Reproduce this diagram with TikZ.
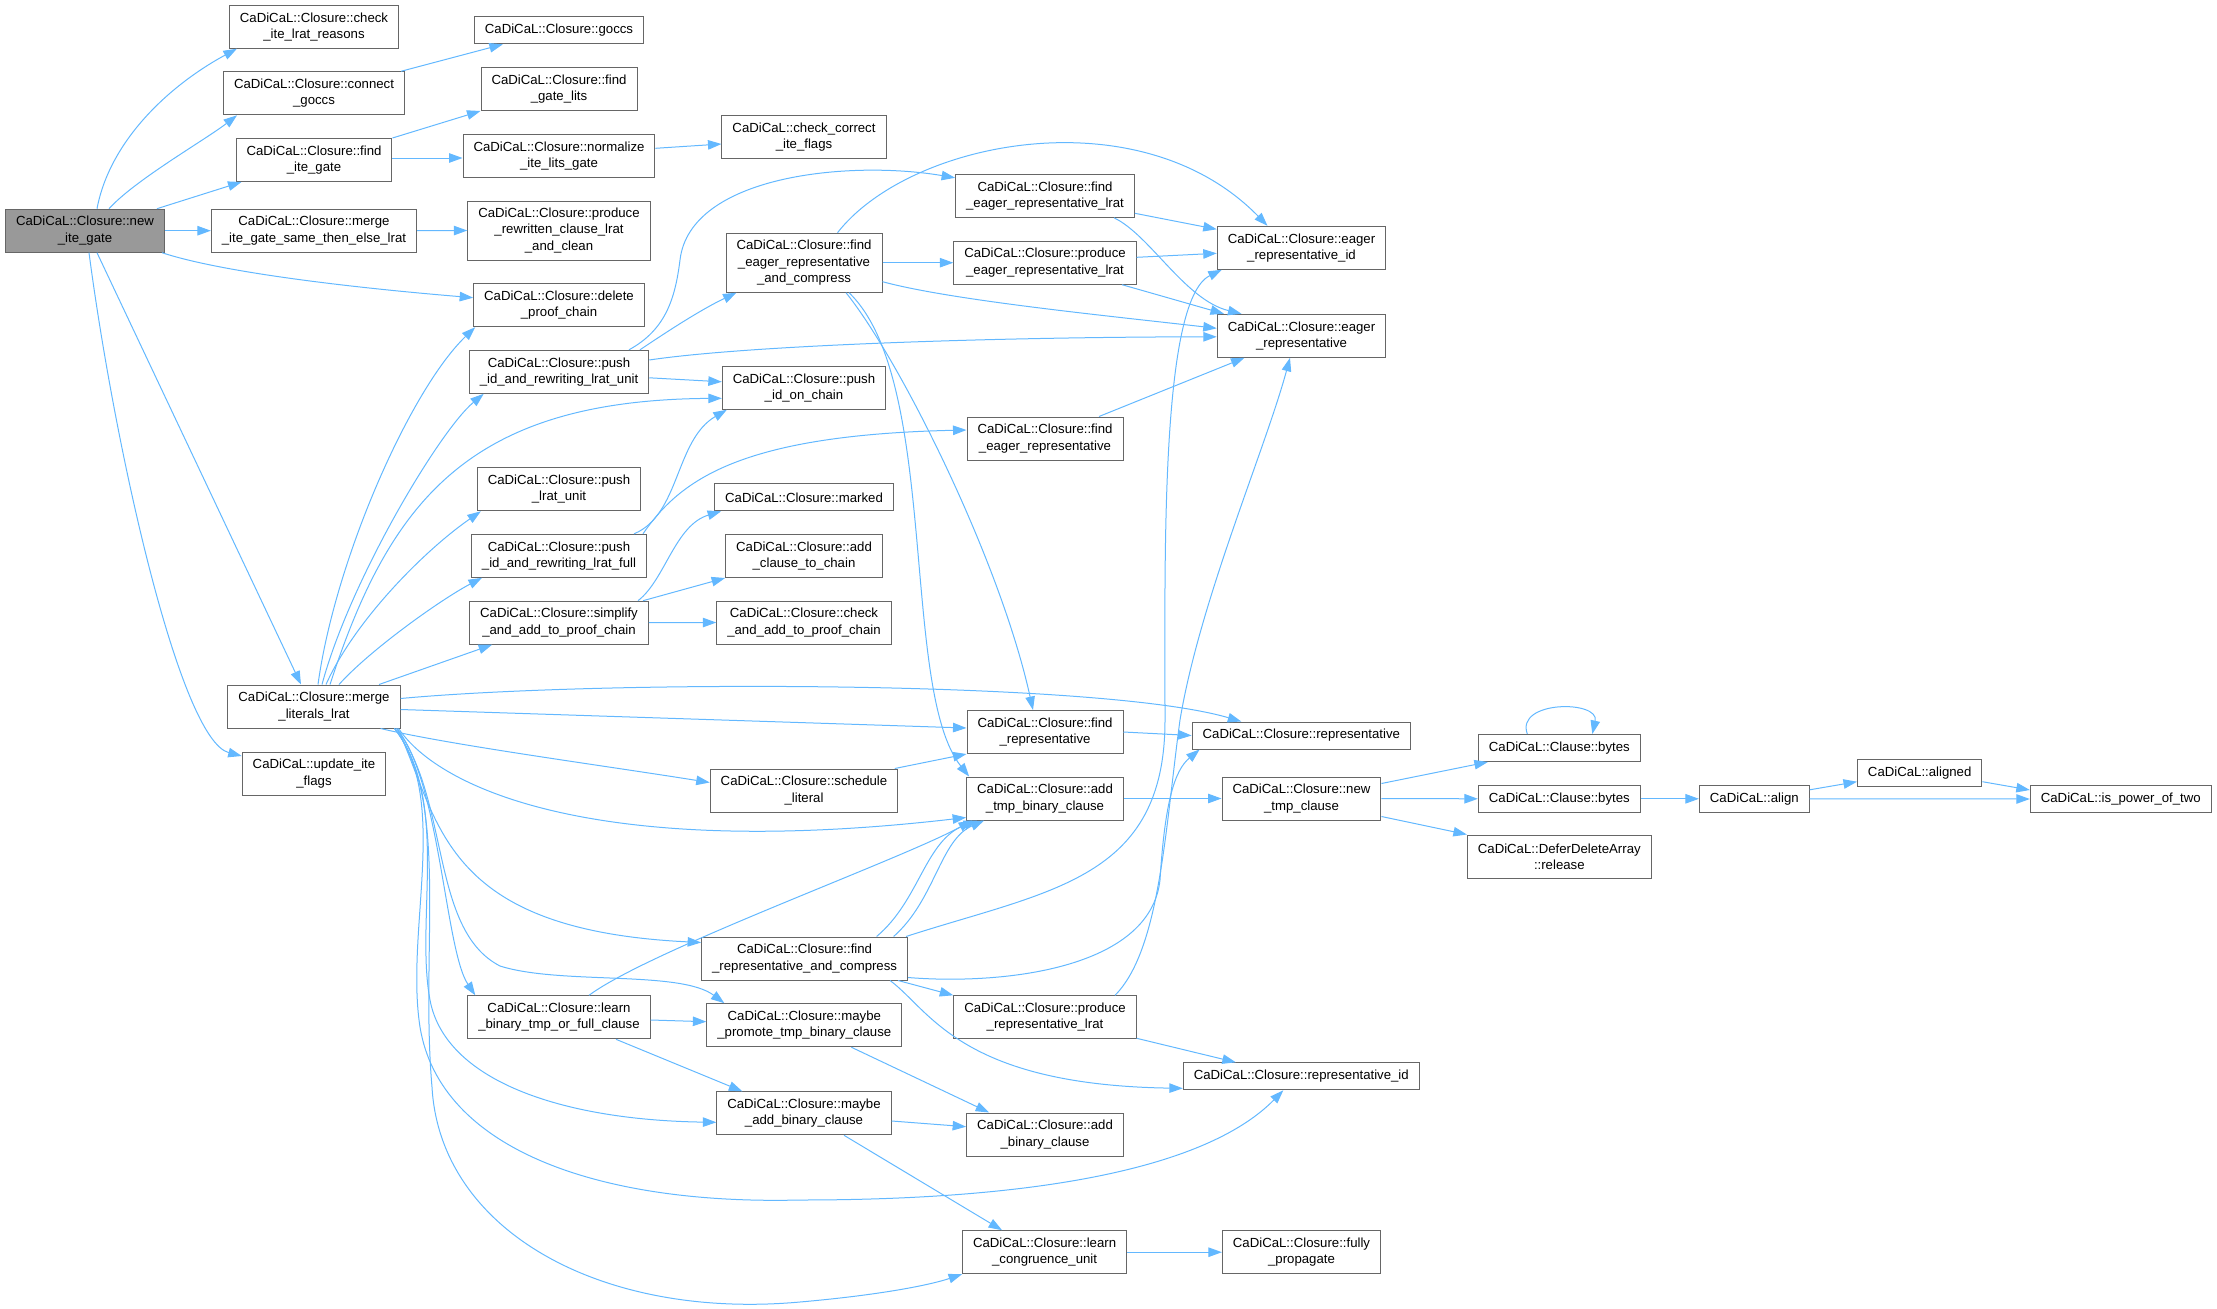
\documentclass[tikz,border=0pt]{standalone}
\usepackage{fontspec}
\setmainfont{Liberation Sans}
\usetikzlibrary{shapes,arrows.meta,positioning}
\definecolor{edgeblue}{HTML}{63B8FF}
\definecolor{boxgray}{HTML}{666666}
\definecolor{rootgray}{HTML}{999999}

\begin{document}
\begin{tikzpicture}[x=1pt, y=-1pt, >={Triangle[length=13.5pt,width=9.5pt]},
    fn/.style={rectangle, draw=boxgray, line width=1pt, fill=white, minimum height=43pt, inner xsep=10.5pt, inner ysep=2pt, align=center, font=\fontsize{13.2}{16.3}\selectfont},
    fnone/.style={fn, minimum height=27pt},
    fnthree/.style={fn, minimum height=59pt},
    fnroot/.style={fn, fill=rootgray},
    ar/.style={->, draw=edgeblue, line width=1pt}]
    \useasboundingbox (0,0) rectangle (2217,1309);
    \node [fnroot] (newite) at (85,230.7) {CaDiCaL::Closure::new\\\_ite\_gate};
    \node [fn] (checkreasons) at (314,26.7) {CaDiCaL::Closure::check\\\_ite\_lrat\_reasons};
    \node [fnone] (goccs) at (559,30.3) {CaDiCaL::Closure::goccs};
    \node [fn] (connect) at (314,93.3) {CaDiCaL::Closure::connect\\\_goccs};
    \node [fn] (gatelits) at (559,89) {CaDiCaL::Closure::find\\\_gate\_lits};
    \node [fn] (findite) at (314,160) {CaDiCaL::Closure::find\\\_ite\_gate};
    \node [fn] (normalize) at (559,156) {CaDiCaL::Closure::normalize\\\_ite\_lits\_gate};
    \node [fn] (correctflags) at (804,137.2) {CaDiCaL::check\_correct\\\_ite\_flags};
    \node [fn] (mergesame) at (314,230.7) {CaDiCaL::Closure::merge\\\_ite\_gate\_same\_then\_else\_lrat};
    \node [fnthree] (rewritten) at (559,230.5) {CaDiCaL::Closure::produce\\\_rewritten\_clause\_lrat\\\_and\_clean};
    \node [fn] (deletechain) at (559,305.2) {CaDiCaL::Closure::delete\\\_proof\_chain};
    \node [fn] (pushunit) at (559,371.8) {CaDiCaL::Closure::push\\\_id\_and\_rewriting\_lrat\_unit};
    \node [fnthree] (eagercompress) at (804,262.7) {CaDiCaL::Closure::find\\\_eager\_representative\\\_and\_compress};
    \node [fn] (eagerlrat) at (1045,195.8) {CaDiCaL::Closure::find\\\_eager\_representative\_lrat};
    \node [fn] (produceeager) at (1045,262.7) {CaDiCaL::Closure::produce\\\_eager\_representative\_lrat};
    \node [fn] (eagerid) at (1301.5,247.8) {CaDiCaL::Closure::eager\\\_representative\_id};
    \node [fn] (eager) at (1301.5,335.8) {CaDiCaL::Closure::eager\\\_representative};
    \node [fn] (pushid) at (804,387.8) {CaDiCaL::Closure::push\\\_id\_on\_chain};
    \node [fn] (findeager) at (1045,438.5) {CaDiCaL::Closure::find\\\_eager\_representative};
    \node [fn] (lratunit) at (559,489.3) {CaDiCaL::Closure::push\\\_lrat\_unit};
    \node [fnone] (marked) at (804,497.3) {CaDiCaL::Closure::marked};
    \node [fn] (pushfull) at (559,555.8) {CaDiCaL::Closure::push\\\_id\_and\_rewriting\_lrat\_full};
    \node [fn] (addclause) at (804,556) {CaDiCaL::Closure::add\\\_clause\_to\_chain};
    \node [fn] (simplify) at (559,622.7) {CaDiCaL::Closure::simplify\\\_and\_add\_to\_proof\_chain};
    \node [fn] (checkadd) at (804,622.5) {CaDiCaL::Closure::check\\\_and\_add\_to\_proof\_chain};
    \node [fn] (mergelits) at (314,706.5) {CaDiCaL::Closure::merge\\\_literals\_lrat};
    \node [fn] (updateflags) at (314,773.5) {CaDiCaL::update\_ite\\\_flags};
    \node [fn] (findrep) at (1045,732) {CaDiCaL::Closure::find\\\_representative};
    \node [fnone] (rep) at (1301.3,735.5) {CaDiCaL::Closure::representative};
    \node [fn] (schedule) at (804,790.5) {CaDiCaL::Closure::schedule\\\_literal};
    \node [fn] (addtmp) at (1045,798.5) {CaDiCaL::Closure::add\\\_tmp\_binary\_clause};
    \node [fn] (newtmp) at (1301.5,798.5) {CaDiCaL::Closure::new\\\_tmp\_clause};
    \node [fnone] (bytesa) at (1559.3,748) {CaDiCaL::Clause::bytes};
    \node [fnone] (bytesb) at (1559.3,798.8) {CaDiCaL::Clause::bytes};
    \node [fnone] (alignf) at (1754.3,798.8) {CaDiCaL::align};
    \node [fnone] (aligned) at (1919.7,772.7) {CaDiCaL::aligned};
    \node [fnone] (powtwo) at (2120.8,799) {CaDiCaL::is\_power\_of\_two};
    \node [fn] (release) at (1559.3,856.5) {CaDiCaL::DeferDeleteArray\\::release};
    \node [fn] (repcompress) at (804.6,958.5) {CaDiCaL::Closure::find\\\_representative\_and\_compress};
    \node [fn] (promote) at (804.3,1025.2) {CaDiCaL::Closure::maybe\\\_promote\_tmp\_binary\_clause};
    \node [fn] (producerep) at (1045,1017.3) {CaDiCaL::Closure::produce\\\_representative\_lrat};
    \node [fnone] (repid) at (1301.3,1076.3) {CaDiCaL::Closure::representative\_id};
    \node [fn] (learnbin) at (559,1017.3) {CaDiCaL::Closure::learn\\\_binary\_tmp\_or\_full\_clause};
    \node [fn] (maybeadd) at (804,1113.3) {CaDiCaL::Closure::maybe\\\_add\_binary\_clause};
    \node [fn] (addbin) at (1045,1134.5) {CaDiCaL::Closure::add\\\_binary\_clause};
    \node [fn] (learnunit) at (1044.6,1252.2) {CaDiCaL::Closure::learn\\\_congruence\_unit};
    \node [fn] (propagate) at (1301.5,1252.2) {CaDiCaL::Closure::fully\\\_propagate};

    \draw [ar] ([xshift=12pt]newite.north) .. controls (110,140) and (170,85) .. ([xshift=8pt]checkreasons.south west);
    \draw [ar] ([xshift=24pt]newite.north) .. controls (135,180) and (205,140) .. ([xshift=14pt]connect.south west);
    \draw [ar] ([xshift=-8pt]newite.north east) -- ([xshift=6pt]findite.south west);
    \draw [ar] (newite.east) -- (mergesame.west);
    \draw [ar] ([xshift=-3pt]newite.south east) .. controls (230,275) and (380,290) .. ([yshift=7.5pt]deletechain.west);
    \draw [ar] ([xshift=12pt]newite.south) -- ([xshift=-13pt]mergelits.north);
    \draw [ar] ([xshift=4pt]newite.south) .. controls (115,450) and (180,740) .. ([yshift=-4.5pt]updateflags.north west);
    \draw [ar] ([xshift=-4pt]connect.north east) -- ([xshift=29pt]goccs.south west);
    \draw [ar] (findite.north east) -- (gatelits.south west);
    \draw [ar] ([yshift=2pt]findite.east) -- ([yshift=-2pt]normalize.west);
    \draw [ar] ([yshift=7.7pt]normalize.east) -- ([yshift=-6.8pt]correctflags.west);
    \draw [ar] (mergesame.east) -- (rewritten.west);

    \draw [ar] ([xshift=70pt]pushunit.north) .. controls (665,330) and (675,300) .. (680,260) .. controls (690,175) and (850,160) .. ([yshift=18pt]eagerlrat.west);
    \draw [ar] ([xshift=81pt]pushunit.north) .. controls (665,333) and (700,310) .. ([xshift=11pt]eagercompress.south west);
    \draw [ar] ([yshift=11.8pt]pushunit.east) .. controls (750,345) and (1000,337) .. ([yshift=-1pt]eager.west);
    \draw [ar] ([yshift=-6pt]pushunit.east) -- ([yshift=6pt]pushid.west);
    \draw [ar] (eagercompress.east) -- (produceeager.west);
    \draw [ar] ([yshift=-19pt]eagercompress.east) .. controls (950,300) and (1100,315) .. ([yshift=7.5pt]eager.west);
    \draw [ar] ([xshift=33.5pt]eagercompress.north) .. controls (910,140) and (1140,95) .. ([xshift=-34pt]eagerid.north);
    \draw [ar] ([xshift=42pt]eagercompress.south) .. controls (900,360) and (1000,560) .. ([xshift=-12pt]findrep.north);
    \draw [ar] ([xshift=45pt]eagercompress.south) .. controls (940,380) and (900,690) .. ([xshift=3pt]addtmp.north west);
    \draw [ar] ([yshift=-17.5pt]eagerlrat.east) -- ([yshift=18.5pt]eagerid.west);
    \draw [ar] ([xshift=69pt]eagerlrat.south) .. controls (1150,235) and (1185,300) .. ([xshift=-60pt]eager.north);
    \draw [ar] ([yshift=5.4pt]produceeager.east) -- ([yshift=-5.5pt]eagerid.west);
    \draw [ar] ([xshift=77pt]produceeager.south) -- ([xshift=-77.5pt]eager.north);
    \draw [ar] ([xshift=54pt]findeager.north) -- ([xshift=-57pt]eager.south);
    \draw [ar] ([xshift=75pt]pushfull.north) .. controls (680,515) and (675,440) .. ([xshift=5pt]pushid.south west);
    \draw [ar] ([xshift=84pt]pushfull.north) .. controls (680,480) and (740,435) .. ([yshift=8.5pt]findeager.west);
    \draw [ar] ([xshift=79pt]simplify.north) .. controls (665,580) and (675,525) .. ([xshift=7pt]marked.south west);
    \draw [ar] ([xshift=84pt]simplify.north) -- (addclause.south west);
    \draw [ar] (simplify.east) -- (checkadd.west);

    \draw [ar] ([xshift=4pt]mergelits.north) .. controls (335,560) and (410,390) .. ([xshift=2pt]deletechain.south west);
    \draw [ar] ([xshift=8pt]mergelits.north) .. controls (350,580) and (440,430) .. ([xshift=15pt]pushunit.south west);
    \draw [ar] ([xshift=16pt]mergelits.north) .. controls (390,500) and (470,400) .. ([yshift=-10.5pt]pushid.west);
    \draw [ar] ([xshift=12pt]mergelits.north) .. controls (355,620) and (425,550) .. ([xshift=4pt]lratunit.south west);
    \draw [ar] ([xshift=25pt]mergelits.north) .. controls (370,650) and (440,600) .. ([xshift=11pt]pushfull.south west);
    \draw [ar] ([xshift=65pt]mergelits.north) -- ([xshift=23pt]simplify.south west);
    \draw [ar] ([yshift=8pt]mergelits.east) .. controls (600,680) and (1100,680) .. ([xshift=-60pt]rep.north);
    \draw [ar] ([yshift=-3pt]mergelits.east) -- ([yshift=4pt]findrep.west);
    \draw [ar] ([xshift=-20pt]mergelits.south east) .. controls (450,745) and (600,765) .. ([yshift=8pt]schedule.west);
    \draw [ar] ([xshift=-2pt]mergelits.south east) .. controls (440,790) and (600,860) .. ([yshift=-19pt]addtmp.west);
    \draw [ar] ([xshift=-3pt]mergelits.south east) .. controls (440,820) and (440,930) .. ([yshift=16pt]repcompress.west);
    \draw [ar] ([xshift=-4pt]mergelits.south east) .. controls (450,800) and (430,930) .. (500,966) .. controls (560,985) and (680,970) .. ([xshift=18pt]promote.north west);
    \draw [ar] ([xshift=-4pt]mergelits.south east) .. controls (440,780) and (445,950) .. ([xshift=8pt]learnbin.north west);
    \draw [ar] ([xshift=-6pt]mergelits.south east) .. controls (450,800) and (415,920) .. (430,1000) .. controls (445,1080) and (560,1120) .. ([yshift=-9pt]maybeadd.west);
    \draw [ar] ([xshift=-6pt]mergelits.south east) .. controls (450,800) and (405,930) .. (420,1027) .. controls (440,1150) and (600,1205) .. (800,1200) .. controls (1050,1200) and (1210,1165) .. ([xshift=-18pt]repid.south);
    \draw [ar] ([xshift=-6pt]mergelits.south east) .. controls (450,800) and (420,950) .. (432,1087) .. controls (440,1230) and (600,1320) .. (800,1302) .. controls (880,1295) and (930,1285) .. (learnunit.south west);

    \draw [ar] ([xshift=30pt]learnbin.north) .. controls (650,950) and (900,860) .. ([xshift=6pt]addtmp.south west);
    \draw [ar] ([yshift=-2.7pt]learnbin.east) -- ([yshift=3.5pt]promote.west);
    \draw [ar] ([xshift=57pt]learnbin.south) -- ([xshift=26pt]maybeadd.north west);
    \draw [ar] ([xshift=47pt]promote.south) -- ([xshift=23pt]addbin.north west);
    \draw [ar] ([yshift=-7.7pt]maybeadd.east) -- ([yshift=7.8pt]addbin.west);
    \draw [ar] ([xshift=40pt]maybeadd.south) -- ([xshift=40pt]learnunit.north west);
    \draw [ar] (learnunit.east) -- (propagate.west);
    \draw [ar] (findrep.east) -- (rep.west);
    \draw [ar] ([xshift=-3.5pt]schedule.north east) -- (findrep.south west);
    \draw [ar] (addtmp.east) -- (newtmp.west);
    \draw [ar] ([xshift=72pt]repcompress.north) .. controls (920,900) and (925,840) .. ([xshift=11pt]addtmp.south west);
    \draw [ar] ([xshift=89pt]repcompress.north) .. controls (935,900) and (940,840) .. ([xshift=18pt]addtmp.south west);
    \draw [ar] ([xshift=-10pt]repcompress.south east) -- (producerep.north west);
    \draw [ar] ([xshift=-18pt]repcompress.south east) .. controls (930,1010) and (960,1085) .. ([yshift=2pt]repid.south west);
    \draw [ar] ([xshift=-2pt]repcompress.north east) .. controls (1050,890) and (1165,880) .. (1165,720) .. controls (1165,560) and (1160,300) .. ([xshift=5pt]eagerid.south west);
    \draw [ar] ([yshift=-19pt]repcompress.east) .. controls (1000,985) and (1150,970) .. (1160,880) .. controls (1165,800) and (1175,770) .. ([xshift=8pt]rep.south west);
    \draw [ar] ([yshift=-21pt]producerep.east) -- ([xshift=53pt]repid.north west);
    \draw [ar] ([xshift=70pt]producerep.north) .. controls (1160,950) and (1165,830) .. (1180,720) .. controls (1200,600) and (1265,450) .. ([xshift=-11.5pt]eager.south);

    \draw [ar] ([yshift=15pt]newtmp.east) -- ([xshift=10pt]bytesa.south west);
    \draw [ar] (newtmp.east) -- (bytesb.west);
    \draw [ar] ([yshift=-18pt]newtmp.east) -- (release.north west);
    \draw [ar] ([xshift=-32pt]bytesa.north) .. controls (1515,700) and (1600,700) .. ([xshift=33pt]bytesa.north);
    \draw [ar] (bytesb.east) -- (alignf.west);
    \draw [ar] ([yshift=9pt]alignf.east) -- ([yshift=-9pt]aligned.west);
    \draw [ar] (alignf.east) -- (powtwo.west);
    \draw [ar] ([yshift=-9pt]aligned.east) -- ([yshift=9pt]powtwo.west);
\end{tikzpicture}
\end{document}
